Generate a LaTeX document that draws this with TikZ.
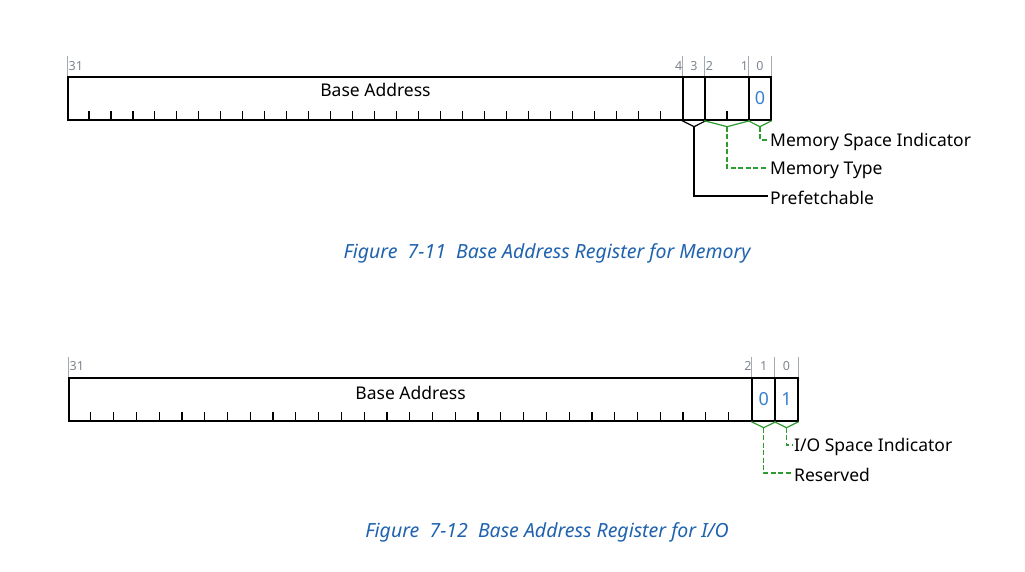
\documentclass[tikz,border=0pt]{standalone}
\usepackage{xcolor}
\usepackage{fontspec}
\setmainfont{Noto Sans}
\usetikzlibrary{positioning}

\definecolor{capblue}{HTML}{1F62AE}
\definecolor{valblue}{HTML}{3580CF}
\definecolor{bitgray}{HTML}{7F8590}
\definecolor{fldgreen}{HTML}{2E9B2E}

\tikzset{
	regfield/.style={draw, line width=1.7pt, minimum height=43pt, inner sep=0pt,
		anchor=north west, font=\fontsize{18}{21}\selectfont, text=valblue},
	fieldname/.style={font=\fontsize{17.5}{21}\selectfont},
	bitnum/.style={text=bitgray, inner sep=1.5pt, font=\fontsize{12.5}{14}\selectfont},
	bitline/.style={draw=bitgray!70, line width=0.9pt},
	regtick/.style={line width=1.2pt},
	brkblack/.style={line width=1.2pt},
	brkgreen/.style={draw=fldgreen, line width=1.2pt},
	leadblack/.style={line width=1.2pt},
	leadgreen/.style={draw=fldgreen, line width=1.2pt, dash pattern=on 5pt off 2.5pt},
	fieldlabel/.style={anchor=west, inner sep=2pt, font=\fontsize{17.5}{21}\selectfont},
	figcaption/.style={text=capblue, font=\fontsize{19.5}{23}\selectfont\itshape}
}

\begin{document}
\begin{tikzpicture}[x=1pt, y=-1pt]
				\useasboundingbox (0,0) rectangle (1025,572);
				
				% Memory register
				\node[regfield, minimum width=615.2pt] (mbase) at (67,76) {};
				\node[regfield, minimum width=22pt] (mpref) at (682.2,76) {};
				\node[regfield, minimum width=43.9pt] (mtype) at (704.2,76) {};
				\node[regfield, minimum width=21.9pt] (mspace) at (748.1,76) {0};
				\node[fieldname] (mbasetxt) at ([yshift=-14pt]mbase.north) {Base Address};
				\foreach \i in {1,...,27}
					\draw[regtick] ([xshift=\i*21.97pt]mbase.south west) -- ++(0,-10);
				\draw[regtick] (mtype.south) -- ++(0,-10);
				
				\foreach \f in {mbase.north west, mpref.north west, mtype.north west, mspace.north west, mspace.north east}
					\draw[bitline] (\f) -- ++(0,-20);
				\node[bitnum, anchor=west] (m31) at ([yshift=10pt]mbase.north west) {31};
				\node[bitnum, anchor=east] (m4) at ([yshift=10pt]mbase.north east) {4};
				\node[bitnum] (m3) at ([yshift=10pt]mpref.north) {3};
				\node[bitnum, anchor=west] (m2) at ([yshift=10pt]mtype.north west) {2};
				\node[bitnum, anchor=east] (m1) at ([yshift=10pt]mtype.north east) {1};
				\node[bitnum] (m0) at ([yshift=10pt]mspace.north) {0};
				
				\coordinate (mpreftip) at ([yshift=-6pt]mpref.south);
				\coordinate (mtypetip) at ([yshift=-6pt]mtype.south);
				\coordinate (mspacetip) at ([yshift=-6pt]mspace.south);
				\draw[brkblack] (mpref.south west) -- (mpreftip) -- (mpref.south east);
				\draw[brkgreen] (mtype.south west) -- (mtypetip) -- (mtype.south east);
				\draw[brkgreen] (mspace.south west) -- (mspacetip) -- (mspace.south east);
				
				\node[fieldlabel] (mspacelbl) at (768,142) {Memory Space Indicator};
				\node[fieldlabel] (mtypelbl) at (768,170) {Memory Type};
				\node[fieldlabel] (mpreflbl) at (768,198) {Prefetchable};
				\draw[leadgreen] (mspacetip) |- ([yshift=2pt]mspacelbl.west);
				\draw[leadgreen] (mtypetip) |- ([yshift=2pt]mtypelbl.west);
				\draw[leadblack] (mpreftip) |- ([yshift=2pt]mpreflbl.west);
				
				\node[figcaption] (memcap) at (547,253) {Figure\ \ 7-11\ \ Base Address Register for Memory};
				
				% I/O register
				\node[regfield, minimum width=683.4pt] (iobase) at (68,377) {};
				\node[regfield, minimum width=22.8pt] (iores) at (751.4,377) {0};
				\node[regfield, minimum width=22.8pt] (iospace) at (774.2,377) {1};
				\node[fieldname] (iobasetxt) at ([yshift=-16pt]iobase.north) {Base Address};
				\foreach \i in {1,...,29}
					\draw[regtick] ([xshift=\i*22.78pt]iobase.south west) -- ++(0,-10);
				
				\foreach \f in {iobase.north west, iores.north west, iospace.north west, iospace.north east}
					\draw[bitline] (\f) -- ++(0,-20);
				\node[bitnum, anchor=west] (io31) at ([yshift=11pt]iobase.north west) {31};
				\node[bitnum, anchor=east] (io2) at ([yshift=11pt]iobase.north east) {2};
				\node[bitnum] (io1) at ([yshift=11pt]iores.north) {1};
				\node[bitnum] (io0) at ([yshift=11pt]iospace.north) {0};
				
				\coordinate (iorestip) at ([yshift=-6pt]iores.south);
				\coordinate (iospacetip) at ([yshift=-6pt]iospace.south);
				\draw[brkgreen] (iores.south west) -- (iorestip) -- (iores.south east);
				\draw[brkgreen] (iospace.south west) -- (iospacetip) -- (iospace.south east);
				
				\node[fieldlabel] (iospacelbl) at (792,447) {I/O Space Indicator};
				\node[fieldlabel] (ioreslbl) at (792,475) {Reserved};
				\draw[leadgreen] (iospacetip) |- ([yshift=2pt]iospacelbl.west);
				\draw[leadgreen] (iorestip) |- ([yshift=2pt]ioreslbl.west);
				
				\node[figcaption] (iocap) at (547,532) {Figure\ \ 7-12\ \ Base Address Register for I/O};
				
			\end{tikzpicture}
\end{document}
